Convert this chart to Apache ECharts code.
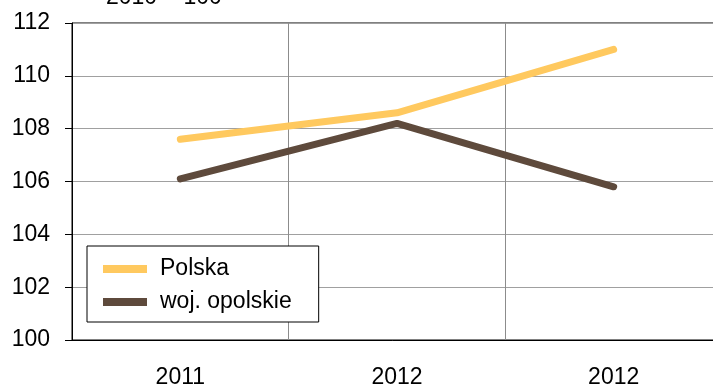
<!DOCTYPE html>
<html>
<head>
<meta charset="utf-8">
<script src="https://cdn.jsdelivr.net/npm/echarts@6/dist/echarts.min.js"></script>
<style>
  html, body { margin: 0; padding: 0; background: #fff; }
  #chart { width: 713px; height: 389px; }
</style>
</head>
<body>
<div id="chart"></div>
<script>
// Index values, previous year base 2010 = 100
const years = ['2011', '2012', '2012'];
const polska = [107.6, 108.6, 111.0];
const opolskie = [106.1, 108.2, 105.8];
const seriesNames = ['Polska', 'woj. opolskie'];
const baseNote = '2010 = 100';

const FONT = '"Liberation Sans", Arial, sans-serif';
const FS = 23;

const chart = echarts.init(document.getElementById('chart'), null, { renderer: 'canvas' });

chart.setOption({
  animation: false,
  backgroundColor: '#fff',
  textStyle: { fontFamily: FONT, color: '#000' },
  graphic: [{
    type: 'text',
    left: 106,
    top: -14,
    style: { text: baseNote, font: FS + 'px ' + FONT, fill: '#000' }
  }],
  grid: {
    left: 72, width: 650, top: 23, height: 317,
    outerBoundsMode: 'none',
    containLabel: false,
    show: true, borderColor: '#000', borderWidth: 1
  },
  legend: {
    orient: 'vertical',
    left: 87, top: 246,
    padding: [10, 27, 7, 16],
    borderColor: '#000', borderWidth: 1,
    backgroundColor: '#fff',
    itemWidth: 44, itemHeight: 8, itemGap: 7,
    icon: 'rect',
    textStyle: { fontSize: FS, fontFamily: FONT, color: '#000', lineHeight: 26, padding: [0, 0, 0, 8] },
    data: seriesNames
  },
  xAxis: {
    type: 'category',
    data: years,
    boundaryGap: true,
    axisLine: { lineStyle: { color: '#000', width: 1 } },
    axisTick: { show: false },
    axisLabel: { fontSize: FS, color: '#000', fontFamily: FONT, margin: 26 },
    splitLine: { show: true, lineStyle: { color: '#8c8c8c', width: 1 } }
  },
  yAxis: {
    type: 'value',
    min: 100, max: 112, interval: 2,
    axisLine: { show: true, lineStyle: { color: '#000', width: 1 } },
    axisTick: { show: true, length: 7, lineStyle: { color: '#000' } },
    axisLabel: { fontSize: FS, color: '#000', fontFamily: FONT, margin: 22 },
    splitLine: { show: true, lineStyle: { color: '#a0a0a0', width: 1 } }
  },
  series: [
    {
      name: seriesNames[0], type: 'line', data: polska,
      symbol: 'none', color: '#FFC95F',
      lineStyle: { width: 7, color: '#FFC95F', cap: 'round', join: 'round' }
    },
    {
      name: seriesNames[1], type: 'line', data: opolskie,
      symbol: 'none', color: '#5E4A3C',
      lineStyle: { width: 7, color: '#5E4A3C', cap: 'round', join: 'round' }
    }
  ]
});
</script>
</body>
</html>
